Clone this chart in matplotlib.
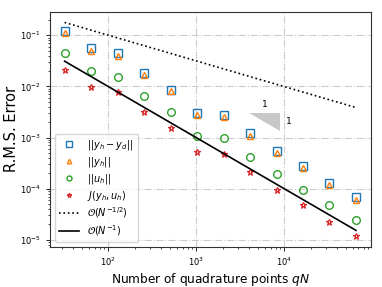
import matplotlib
matplotlib.use("Agg")
import matplotlib.pyplot as plt
from matplotlib.patches import Polygon

qN = [32, 64, 128, 256, 512, 1024, 2048, 4096, 8192, 16384, 32768, 65536]
err_yh_yd = [0.122, 0.0553, 0.0441, 0.0183, 0.0086, 0.00298, 0.00276, 0.00120, 0.000546, 0.000276, 0.000129, 0.0000686]
err_yh = [0.110, 0.050, 0.040, 0.0165, 0.0080, 0.0028, 0.0025, 0.00108, 0.00049, 0.00025, 0.000118, 0.000060]
err_uh = [0.0441, 0.0198, 0.0155, 0.00644, 0.00311, 0.00108, 0.00097, 0.000422, 0.000195, 0.0000955, 0.0000469, 0.0000244]
err_J = [0.0213, 0.00984, 0.00773, 0.00321, 0.00153, 0.00053, 0.000483, 0.00021, 0.0000955, 0.0000476, 0.0000227, 0.0000118]
ref_x = [32, 65536]
ref_half = [0.178, 0.00386]
ref_one = [0.0311, 0.0000153]
tri_x = [4000, 9000]
tri_y = [0.003, 0.00133]

fig = plt.figure(figsize=(3.82, 2.87), dpi=100)
ax = fig.add_axes([0.131, 0.140, 0.839, 0.819])

ax.plot(qN, err_yh_yd, 's', mfc='none', mec='tab:blue', ms=6, mew=1.0, label=r'$||y_h - y_d||$')
ax.plot(qN, err_yh, '^', mfc='none', mec='tab:orange', ms=5, mew=1.0, label=r'$||y_h||$')
ax.plot(qN, err_uh, 'o', mfc='none', mec='tab:green', ms=5.5, mew=1.0, label=r'$||u_h||$')
ax.plot(qN, err_J, '*', mfc='none', mec='tab:red', ms=5, mew=0.9, label=r'$J(y_h, u_h)$')
ax.plot(ref_x, ref_half, ':', color='black', lw=1.2, label=r'$\mathcal{O}(N^{-1/2})$')
ax.plot(ref_x, ref_one, '-', color='black', lw=1.2, label=r'$\mathcal{O}(N^{-1})$')

tri = Polygon([(tri_x[0], tri_y[0]), (tri_x[1], tri_y[0]), (tri_x[1], tri_y[1])],
              closed=True, facecolor='#c8c8c8', edgecolor='none')
ax.add_patch(tri)
ax.text(6000, 0.0036, '1', fontsize=6.5, ha='center', va='bottom')
ax.text(10500, 0.0021, '1', fontsize=6.5, ha='left', va='center')

ax.set_xscale('log')
ax.set_yscale('log')
ax.grid(True, which='major', linestyle='-.', color='#cccccc', lw=0.8)
ax.set_xlabel(r'Number of quadrature points $qN$', fontsize=8.7, labelpad=2)
ax.set_ylabel('R.M.S. Error', fontsize=10.5, labelpad=1)
ax.tick_params(labelsize=6, length=3, width=0.6)
ax.tick_params(which='minor', length=1.5, width=0.5)
for s in ax.spines.values():
    s.set_color('#333333')
    s.set_linewidth(0.8)
ax.legend(loc='lower left', fontsize=7, handlelength=2.0, borderpad=0.45,
          labelspacing=0.28, markerscale=0.65, handletextpad=0.9)

fig.savefig('out.png', dpi=100)
